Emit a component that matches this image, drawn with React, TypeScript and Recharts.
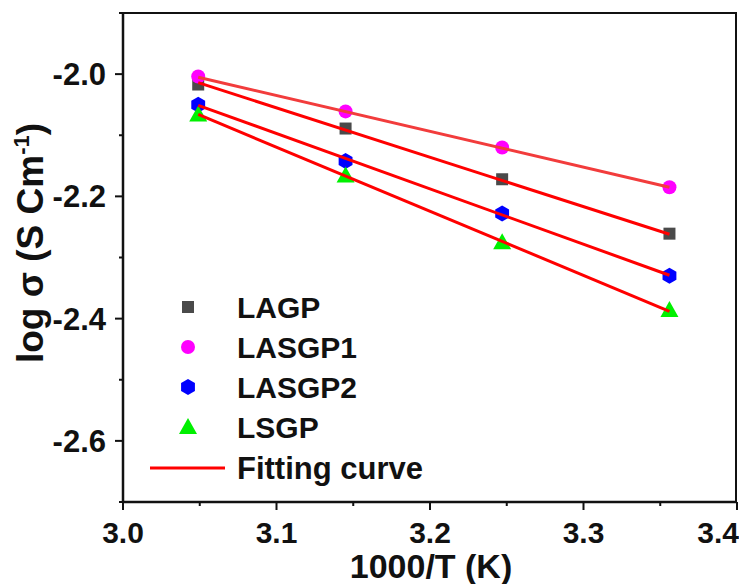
import React from 'react';
import { ScatterChart, Scatter, XAxis, YAxis, Legend } from 'recharts';

// 1000/T positions of the measurements
const invTemps = [3.049, 3.145, 3.247, 3.356];

// log sigma readings per sample
const lagp = [-2.017, -2.089, -2.172, -2.261];
const lasgp1 = [-2.004, -2.061, -2.12, -2.185];
const lasgp2 = [-2.05, -2.142, -2.228, -2.33];
const lsgp = [-2.066, -2.166, -2.275, -2.386];

// fitted lines, read at both ends
const fitX = [3.049, 3.356];
const fitLagp = [-2.014, -2.262];
const fitLasgp1 = [-2.005, -2.185];
const fitLasgp2 = [-2.051, -2.329];
const fitLsgp = [-2.066, -2.388];

const xDomain = [3.0, 3.4];
const yDomain = [-2.7, -1.9];
const xTicks = [3.0, 3.05, 3.1, 3.15, 3.2, 3.25, 3.3, 3.35, 3.4];
const xLabels = ['3.0', '3.1', '3.2', '3.3', '3.4'];
const yTicks = [-2.7, -2.6, -2.5, -2.4, -2.3, -2.2, -2.1, -2.0, -1.9];
const yLabels = ['-2.0', '-2.2', '-2.4', '-2.6'];

const FONT = '"Liberation Sans", Arial, sans-serif';
const INK = '#111';
const W = 739;
const H = 584;
const MARGIN = { top: 13, right: 2, bottom: 0, left: 0 };
const Y_AXIS_W = 123;
const X_AXIS_H = 82;

const toPoints = (xs: number[], ys: number[]) => xs.map((x, i) => ({ x, y: ys[i] }));

const Square = ({ cx, cy }: any) => <rect x={cx - 6} y={cy - 6} width={12} height={12} fill="#4a4a4a" />;
const Circle = ({ cx, cy }: any) => <circle cx={cx} cy={cy} r={7} fill="#ff00ff" />;
const Hexagon = ({ cx, cy }: any) => {
  const r = 8;
  const pts = [0, 1, 2, 3, 4, 5]
    .map((k) => {
      const a = (Math.PI / 3) * k - Math.PI / 2;
      return `${cx + r * Math.cos(a)},${cy + r * Math.sin(a)}`;
    })
    .join(' ');
  return <polygon points={pts} fill="#0000ff" />;
};
const Triangle = ({ cx, cy }: any) => (
  <polygon points={`${cx},${cy - 9} ${cx + 9},${cy + 7} ${cx - 9},${cy + 7}`} fill="#00f000" />
);
const NoDot = () => <g />;

function XTick({ x, y, payload }: any) {
  const v = Number(payload.value);
  const major = Math.abs(v * 10 - Math.round(v * 10)) < 1e-6 && xLabels.includes(v.toFixed(1));
  const last = v.toFixed(1) === xLabels[xLabels.length - 1];
  return (
    <g>
      <line x1={x} x2={x} y1={y} y2={y + (major ? 8 : 4)} stroke={INK} strokeWidth={2} />
      {major && (
        <text
          x={last ? x + 2 : x}
          y={y + 41}
          textAnchor={last ? 'end' : 'middle'}
          fontFamily={FONT}
          fontWeight="bold"
          fontSize={30}
          fill={INK}
        >
          {v.toFixed(1)}
        </text>
      )}
    </g>
  );
}

function YTick({ x, y, payload }: any) {
  const v = Number(payload.value);
  const major = yLabels.includes(v.toFixed(1));
  return (
    <g>
      <line x1={x - (major ? 8 : 4)} x2={x} y1={y} y2={y} stroke={INK} strokeWidth={2} />
      {major && (
        <text x={x - 17} y={y + 11} textAnchor="end" fontFamily={FONT} fontWeight="bold" fontSize={31} fill={INK}>
          {v.toFixed(1)}
        </text>
      )}
    </g>
  );
}

const XTitle = () => (
  <text x={431} y={578} textAnchor="middle" fontFamily={FONT} fontWeight="bold" fontSize={34} fill={INK}>
    1000/T (K)
  </text>
);

const YTitle = () => (
  <text
    x={0}
    y={0}
    transform="translate(43, 243) rotate(-90)"
    textAnchor="middle"
    fontFamily={FONT}
    fontWeight="bold"
    fontSize={37}
    fill={INK}
  >
    log σ (S Cm
    <tspan dy={-14} fontSize={22}>-1</tspan>
    <tspan dy={14}>)</tspan>
  </text>
);

const legendRows = [
  { name: 'LAGP', Mark: Square },
  { name: 'LASGP1', Mark: Circle },
  { name: 'LASGP2', Mark: Hexagon },
  { name: 'LSGP', Mark: Triangle },
];

const renderLegend = () => (
  <svg width={320} height={205}>
    {legendRows.map((row, i) => (
      <g key={row.name}>
        <row.Mark cx={48} cy={22 + i * 40} />
        <text x={97} y={33 + i * 40} fontFamily={FONT} fontWeight="bold" fontSize={30} fill={INK}>
          {row.name}
        </text>
      </g>
    ))}
    <line x1={10} x2={85} y1={183} y2={183} stroke="#ff0000" strokeWidth={3} />
    <text x={97} y={194} fontFamily={FONT} fontWeight="bold" fontSize={31} fill={INK}>
      Fitting curve
    </text>
  </svg>
);

export default function App() {
  // plot box, from the chart margins and axis sizes
  const plotLeft = MARGIN.left + Y_AXIS_W;
  const plotTop = MARGIN.top;
  const plotW = W - plotLeft - MARGIN.right;
  const plotH = H - plotTop - MARGIN.bottom - X_AXIS_H;
  return (
    <div style={{ position: 'absolute', left: 0, top: 0, width: W, height: H, background: '#fff' }}>
      <ScatterChart width={W} height={H} margin={MARGIN}>
        <XAxis
          type="number"
          dataKey="x"
          domain={xDomain}
          ticks={xTicks}
          interval={0}
          height={X_AXIS_H}
          tickSize={0}
          tickMargin={0}
          tickLine={false}
          tick={<XTick />}
          axisLine={{ stroke: INK, strokeWidth: 2.5 }}
          label={<XTitle />}
        />
        <YAxis
          type="number"
          dataKey="y"
          domain={yDomain}
          ticks={yTicks}
          interval={0}
          width={Y_AXIS_W}
          tickSize={0}
          tickMargin={0}
          tickLine={false}
          tick={<YTick />}
          axisLine={{ stroke: INK, strokeWidth: 2.5 }}
          label={<YTitle />}
        />
        <Scatter name="LAGP" data={toPoints(invTemps, lagp)} shape={Square} isAnimationActive={false} />
        <Scatter name="LASGP1" data={toPoints(invTemps, lasgp1)} shape={Circle} isAnimationActive={false} />
        <Scatter name="LASGP2" data={toPoints(invTemps, lasgp2)} shape={Hexagon} isAnimationActive={false} />
        <Scatter name="LSGP" data={toPoints(invTemps, lsgp)} shape={Triangle} isAnimationActive={false} />
        <Scatter
          data={toPoints(fitX, fitLasgp1)}
          line={{ stroke: '#f23c3c', strokeWidth: 3 }}
          shape={NoDot}
          legendType="none"
          isAnimationActive={false}
        />
        <Scatter
          data={toPoints(fitX, fitLagp)}
          line={{ stroke: '#ff0000', strokeWidth: 3 }}
          shape={NoDot}
          legendType="none"
          isAnimationActive={false}
        />
        <Scatter
          data={toPoints(fitX, fitLasgp2)}
          line={{ stroke: '#ff0000', strokeWidth: 3 }}
          shape={NoDot}
          legendType="none"
          isAnimationActive={false}
        />
        <Scatter
          data={toPoints(fitX, fitLsgp)}
          line={{ stroke: '#ff0000', strokeWidth: 3 }}
          shape={NoDot}
          legendType="none"
          isAnimationActive={false}
        />
        <Legend
          layout="vertical"
          align="center"
          verticalAlign="middle"
          content={renderLegend}
          wrapperStyle={{ left: 140, top: 285, width: 320, height: 205 }}
        />
      </ScatterChart>
      {/* top + right edges of the box */}
      <div
        style={{
          position: 'absolute',
          left: plotLeft,
          top: plotTop - 1,
          width: plotW,
          height: plotH,
          borderTop: `2.5px solid ${INK}`,
          borderRight: `2.5px solid ${INK}`,
          boxSizing: 'border-box',
          pointerEvents: 'none',
        }}
      />
    </div>
  );
}
